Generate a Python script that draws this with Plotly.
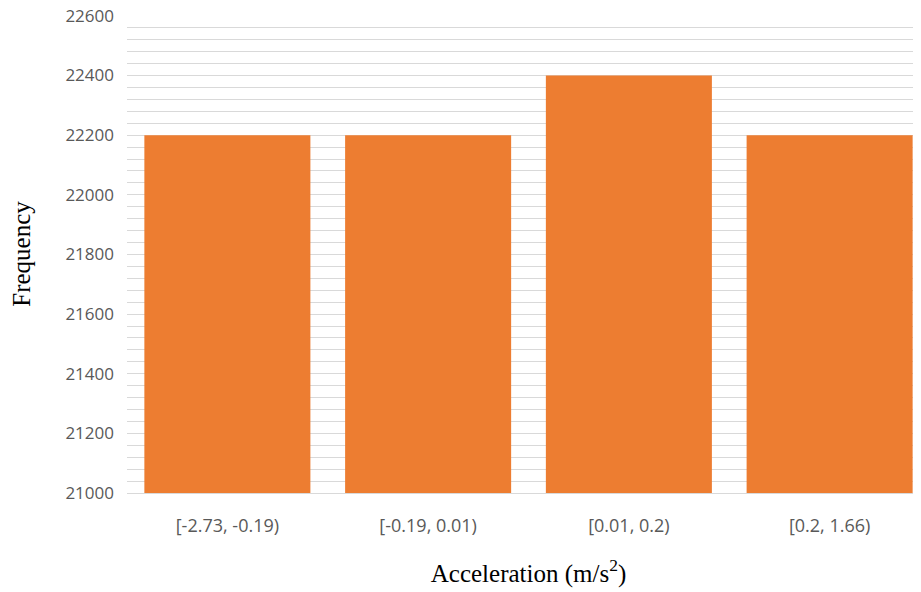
import plotly.graph_objects as go

categories = ["[-2.73, -0.19)", "[-0.19, 0.01)", "[0.01, 0.2)", "[0.2, 1.66)"]
frequency = [22200, 22200, 22400, 22200]
y_ticks = [21000, 21200, 21400, 21600, 21800, 22000, 22200, 22400, 22600]
base_value = 21000

fig = go.Figure(go.Bar(x=categories, y=[v - base_value for v in frequency], base=base_value,
                       marker_color="#ED7D31", marker_line_width=0))

# page body has an 8px default margin, so margins are compensated;
# the plot area runs slightly past the right edge of the window, as in the reference crop
fig.update_layout(
    width=925, height=592,
    margin=dict(l=119, r=3, t=7, b=107),
    paper_bgcolor="white", plot_bgcolor="white",
    bargap=0.173, showlegend=False,
    font=dict(family="Open Sans, Liberation Sans, sans-serif", size=17, color="#595959"),
)
fig.update_yaxes(
    range=[21000, 22603], tickvals=y_ticks, ticktext=[str(v) for v in y_ticks],
    showgrid=True, gridcolor="#D9D9D9", gridwidth=1,
    minor=dict(dtick=40, showgrid=True, gridcolor="#D9D9D9", gridwidth=1),
    zeroline=False, showline=False, ticks="", ticklabelstandoff=12, automargin=False,
    ticklabeloverflow="allow",
    tickfont=dict(size=17, color="#595959"),
    title=dict(text="Frequency", font=dict(family="Liberation Serif, Times New Roman, serif", size=25, color="black"), standoff=30),
)
fig.update_xaxes(
    showline=True, linecolor="#D9D9D9", linewidth=1, ticks="", ticklabelstandoff=16, automargin=False,
    tickfont=dict(size=18, color="#595959"),
    title=dict(text="Acceleration (m/s<sup>2</sup>)", font=dict(family="Liberation Serif, Times New Roman, serif", size=25, color="black"), standoff=28),
)
fig.write_html("out.html")
